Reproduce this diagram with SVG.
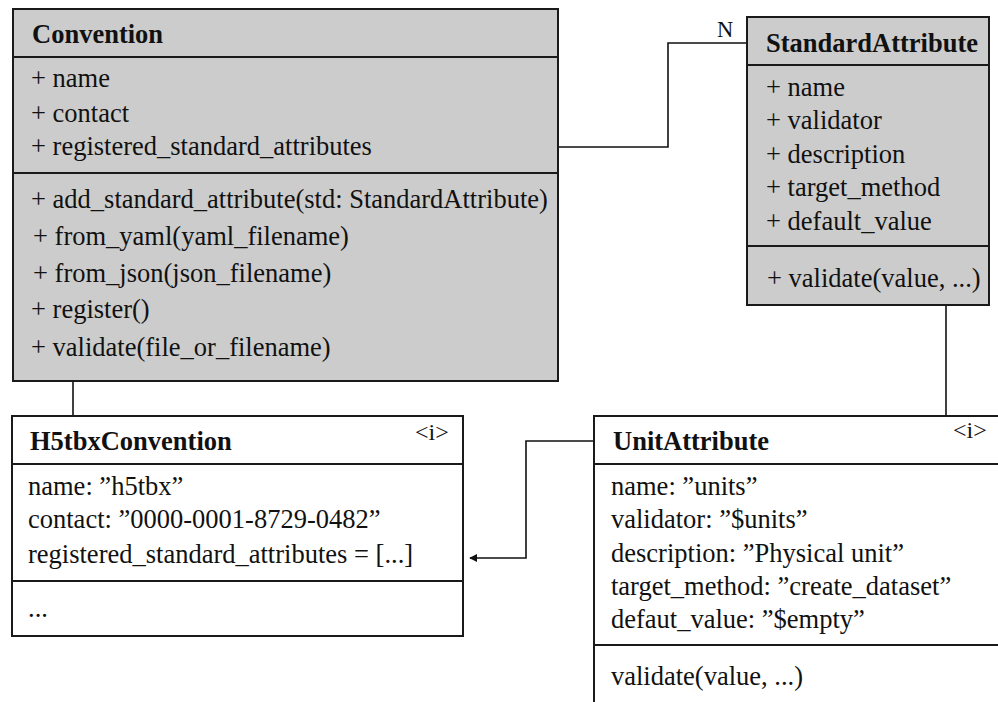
<svg xmlns="http://www.w3.org/2000/svg" width="998" height="702" viewBox="0 0 998 702">
<style>
.box{stroke:#1a1a1a;stroke-width:2}
.gray{fill:#cccccc}
.white{fill:#ffffff}
.sep{stroke:#1a1a1a;stroke-width:2}
text{font-family:"Liberation Serif","Times New Roman",serif;font-size:26.5px;fill:#111}
.title{font-weight:bold}
.small{font-size:22.5px}
.tag{font-size:24px}
.conn{fill:none;stroke:#111;stroke-width:1.6}
</style>
<defs>
<marker id="arr" viewBox="0 0 10 10" refX="9" refY="5" markerWidth="8" markerHeight="8" markerUnits="userSpaceOnUse" orient="auto">
<path d="M0,0 L10,5 L0,10 Z" fill="#111"/>
</marker>
</defs>
<rect width="998" height="702" fill="#ffffff"/>
<g id="connectors">
<polyline class="conn" points="558,147 668,147 668,43 747,43"/>
<line class="conn" x1="73" y1="381" x2="73" y2="416"/>
<line class="conn" x1="946" y1="305" x2="946" y2="416"/>
<polyline class="conn" points="594,441 526,441 526,558 470,558" marker-end="url(#arr)"/>
<text class="small" x="717" y="37">N</text>
</g>
<g id="Convention">
<rect class="box gray" x="13" y="9" width="545" height="372"/>
<line class="sep" x1="13" y1="57" x2="558" y2="57"/>
<line class="sep" x1="13" y1="173" x2="558" y2="173"/>
<text class="title" x="32" y="43">Convention</text>
<text x="31" y="87">+ name</text>
<text x="31" y="122">+ contact</text>
<text x="31" y="155">+ registered_standard_attributes</text>
<text x="31" y="208">+ add_standard_attribute(std: StandardAttribute)</text>
<text x="33" y="245">+ from_yaml(yaml_filename)</text>
<text x="33" y="282">+ from_json(json_filename)</text>
<text x="31" y="318">+ register()</text>
<text x="31" y="356">+ validate(file_or_filename)</text>
</g>
<g id="StandardAttribute">
<rect class="box gray" x="747" y="17" width="242" height="288"/>
<line class="sep" x1="747" y1="65" x2="989" y2="65"/>
<line class="sep" x1="747" y1="246" x2="989" y2="246"/>
<text class="title" x="766" y="52">StandardAttribute</text>
<text x="766" y="96">+ name</text>
<text x="766" y="129">+ validator</text>
<text x="766" y="163">+ description</text>
<text x="766" y="196">+ target_method</text>
<text x="766" y="230">+ default_value</text>
<text x="767" y="287">+ validate(value, ...)</text>
</g>
<g id="H5tbxConvention">
<rect class="box white" x="12" y="416" width="451" height="220"/>
<line class="sep" x1="12" y1="464" x2="463" y2="464"/>
<line class="sep" x1="12" y1="581" x2="463" y2="581"/>
<text class="title" x="30" y="450">H5tbxConvention</text>
<text class="tag" x="415" y="440">&lt;i&gt;</text>
<text x="28" y="495">name: ”h5tbx”</text>
<text x="28" y="528">contact: ”0000-0001-8729-0482”</text>
<text x="28" y="563">registered_standard_attributes = [...]</text>
<text x="28" y="617">...</text>
</g>
<g id="UnitAttribute">
<rect class="box white" x="594" y="416" width="420" height="300"/>
<line class="sep" x1="594" y1="464" x2="998" y2="464"/>
<line class="sep" x1="594" y1="645" x2="998" y2="645"/>
<text class="title" x="613" y="450">UnitAttribute</text>
<text class="tag" x="953" y="438">&lt;i&gt;</text>
<text x="611" y="495">name: ”units”</text>
<text x="611" y="528">validator: ”$units”</text>
<text x="611" y="562">description: ”Physical unit”</text>
<text x="611" y="595">target_method: ”create_dataset”</text>
<text x="611" y="628">defaut_value: ”$empty”</text>
<text x="611" y="685">validate(value, ...)</text>
</g>
</svg>
